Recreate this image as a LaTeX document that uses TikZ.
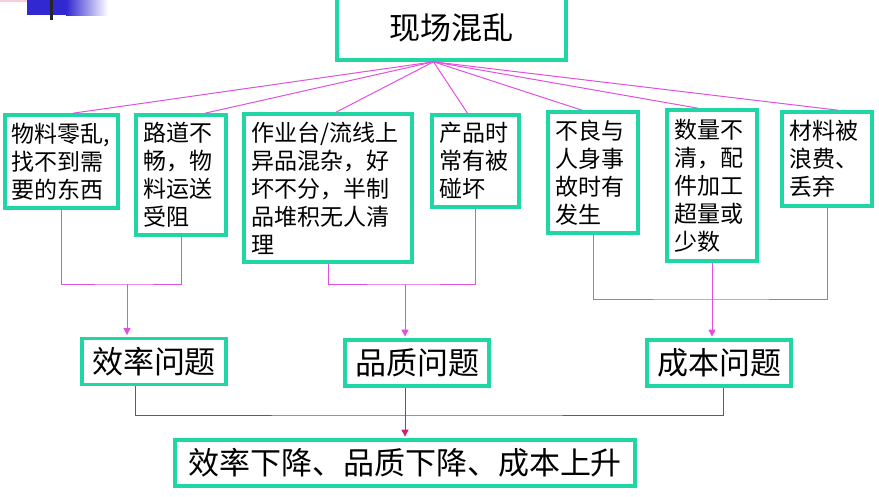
\documentclass[tikz,border=0pt]{standalone}
\usepackage{fontspec}
\setmainfont{Noto Sans CJK SC}
\usetikzlibrary{arrows.meta}
\definecolor{boxteal}{RGB}{32,214,164}
\definecolor{linkpink}{RGB}{226,80,226}
\definecolor{sumred}{RGB}{208,30,120}
\definecolor{slideblue}{RGB}{50,40,210}
\definecolor{slidepink}{RGB}{250,205,220}

\begin{document}
\begin{tikzpicture}[x=1pt,y=-1pt,>={Triangle[length=7pt,width=7pt]}]
  \tikzstyle{problema}=[rectangle,draw=boxteal,line width=3.6pt,fill=white,
                                    inner xsep=7pt,inner ysep=0pt,
                                    align=left,
                                    font=\fontsize{23}{28}\selectfont]
  \tikzstyle{resultado}=[rectangle,draw=boxteal,line width=3.6pt,fill=white,
                                    minimum width=144pt,
                                    minimum height=46pt,
                                    font=\fontsize{31}{36}\selectfont]
  \tikzstyle{enlace}=[draw=linkpink,line width=1pt]
  \tikzstyle{suma}=[draw=sumred,line width=1pt]
  \tikzstyle{flecha}=[->,shorten >=1.6pt]
  \useasboundingbox (0,0) rectangle (879,496);
  %Decoracion de la diapositiva
  \fill[slidepink] (0,0) rectangle (42,2);
  \fill[slideblue] (27,0) rectangle (66,15);
  \shade[left color=slideblue,right color=white] (66,0) rectangle (108,15);
  \fill[black!85] (50,0) rectangle (53,20);
  %Nodo superior
  \node[resultado,minimum width=229pt,minimum height=64pt] (top) at (451.5,28) {现场混乱};
  %Causas
  \node[problema,text width=99pt,minimum height=93pt] (b1) at (61.5,161.5) {物料零乱,\\找不到需\\要的东西};
  \node[problema,text width=76pt,minimum height=120pt] (b2) at (181,175) {路道不\\畅，物\\料运送\\受阻};
  \node[problema,text width=154pt,minimum height=148pt] (b3) at (328,188) {作业台/流线上\\异品混杂，好\\坏不分，半制\\品堆积无人清\\理};
  \node[problema,text width=73pt,minimum height=92pt] (b4) at (475.5,161) {产品时\\常有被\\碰坏};
  \node[problema,text width=76pt,minimum height=121pt] (b5) at (593,172.5) {不良与\\人身事\\故时有\\发生};
  \node[problema,text width=76pt,minimum height=151pt] (b6) at (712,185.5) {数量不\\清，配\\件加工\\超量或\\少数};
  \node[problema,text width=76pt,minimum height=94pt] (b7) at (827,159) {材料被\\浪费、\\丢弃};
  %Problemas
  \node[resultado] (eff) at (154,361.5) {效率问题};
  \node[resultado] (qual) at (417,363) {品质问题};
  \node[resultado] (cost) at (719,363) {成本问题};
  %Resultado final
  \node[resultado,minimum width=460pt] (final) at (405,463) {效率下降、品质下降、成本上升};

  \coordinate (fan) at ([xshift=-18pt]top.south);
  \path[enlace] (fan) edge ([xshift=11.5pt]b1.north)
                      edge ([xshift=24pt]b2.north)
                      edge ([xshift=8pt]b3.north)
                      edge ([xshift=-8pt]b4.north)
                      edge ([xshift=-11pt]b5.north)
                      edge ([xshift=-14pt]b6.north)
                      edge ([xshift=11pt]b7.north);

  \coordinate (j1) at (127,284);
  \coordinate (j2) at (405,284);
  \coordinate (j3) at (712,299);
  \coordinate (j4) at (405,415);
  \draw[enlace] (b1.south) |- (j1) -| (b2.south);
  \draw[enlace,flecha] (j1) -- (j1 |- eff.north);
  \draw[enlace] (b3.south) |- (j2) -| (b4.south);
  \draw[enlace,flecha] (j2) -- (j2 |- qual.north);
  \draw[enlace] (b5.south) |- (j3) -| (b7.south);
  \draw[enlace,flecha] (b6.south) -- (b6.south |- cost.north);

  \draw[suma] ([xshift=-19pt]eff.south) |- (j4) -| ([xshift=4pt]cost.south);
  \draw[suma] ([xshift=-12pt]qual.south) -- (j4);
  \draw[suma,flecha] (j4) -- (final.north);
\end{tikzpicture}
\end{document}
